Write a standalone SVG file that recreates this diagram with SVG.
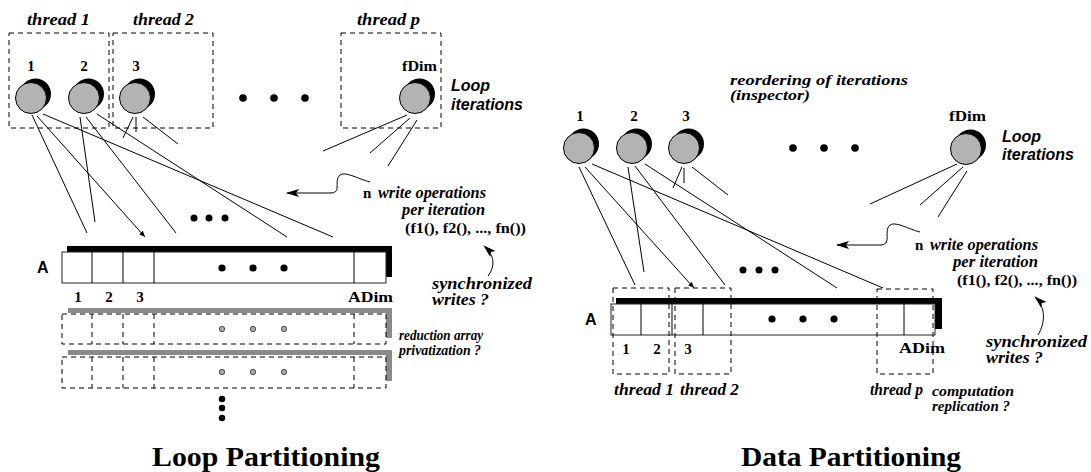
<svg xmlns="http://www.w3.org/2000/svg" width="1091" height="472" viewBox="0 0 1091 472">
<defs>
<marker id="ah" markerUnits="userSpaceOnUse" markerWidth="14" markerHeight="10" refX="12" refY="5" orient="auto"><path d="M0,1 L13,5 L0,9 L3,5 Z" fill="#000"/></marker>
<marker id="sm" markerUnits="userSpaceOnUse" markerWidth="7" markerHeight="6" refX="6" refY="3" orient="auto"><path d="M0,0.5 L6,3 L0,5.5 Z" fill="#000"/></marker>
</defs>
<style>
.t{font-family:"Liberation Serif",serif;font-weight:bold;font-style:italic;font-size:16px;fill:#000}
.t2{font-family:"Liberation Serif",serif;font-weight:bold;font-style:italic;font-size:15px;fill:#000}
.b{font-family:"Liberation Serif",serif;font-weight:bold;font-size:15px;fill:#000}
.s{font-family:"Liberation Sans",sans-serif;font-weight:bold;font-style:italic;font-size:16px;fill:#000}
.a{font-family:"Liberation Sans",sans-serif;font-weight:bold;font-size:16px;fill:#000}
.h{font-family:"Liberation Serif",serif;font-weight:bold;font-size:28px;fill:#000}
.dash{fill:none;stroke:#000;stroke-width:1;stroke-dasharray:5 4}
.ln{stroke:#000;stroke-width:1;fill:none}
.cg{fill:#b3b3b3;stroke:#000;stroke-width:1}
.box{fill:#fff;stroke:#222;stroke-width:1}
.gd{fill:#a8a8a8;stroke:#333;stroke-width:0.8}
.shg{fill:#8a8a8a}
</style>
<rect width="1091" height="472" fill="#fff"/>

<!-- LEFT PANEL -->
<g id="left-threads">
<rect class="dash" x="9" y="33" width="100" height="95"/>
<rect class="dash" x="113" y="33" width="100" height="95"/>
<rect class="dash" x="341" y="33" width="100" height="95"/>
<text class="t" x="27" y="25" textLength="63" lengthAdjust="spacingAndGlyphs">thread 1</text>
<text class="t" x="133" y="25" textLength="61" lengthAdjust="spacingAndGlyphs">thread 2</text>
<text class="t" x="357" y="25" textLength="63" lengthAdjust="spacingAndGlyphs">thread p</text>
</g>
<g id="l-it1"><circle cx="35.5" cy="94" r="15.5" fill="#000"/><circle class="cg" cx="31" cy="98" r="15.5"/><text class="b" x="31" y="71" text-anchor="middle">1</text></g>
<g id="l-it2"><circle cx="88.5" cy="94" r="15.5" fill="#000"/><circle class="cg" cx="84" cy="98" r="15.5"/><text class="b" x="84" y="71" text-anchor="middle">2</text></g>
<g id="l-it3"><circle cx="139.5" cy="94" r="15.5" fill="#000"/><circle class="cg" cx="135" cy="98" r="15.5"/><text class="b" x="136" y="71" text-anchor="middle">3</text></g>
<g id="l-itf"><circle cx="419.5" cy="94" r="15.5" fill="#000"/><circle class="cg" cx="415" cy="98" r="15.5"/><text class="b" x="402" y="71" textLength="35" lengthAdjust="spacingAndGlyphs">fDim</text></g>
<g id="l-dots">
<circle cx="243" cy="98" r="3.8"/><circle cx="274" cy="98" r="3.8"/><circle cx="305" cy="98" r="3.8"/>
<circle cx="194" cy="218" r="3.5"/><circle cx="209" cy="218" r="3.5"/><circle cx="225" cy="218" r="3.5"/>
<circle cx="222" cy="399" r="3.2"/><circle cx="222" cy="408" r="3.2"/><circle cx="222" cy="418" r="3.2"/>
</g>
<g id="l-labels">
<text class="s" x="451" y="91">Loop</text>
<text class="s" x="451" y="110">iterations</text>
<text class="b" x="363" y="198">n</text>
<text class="t" x="378" y="198" textLength="108" lengthAdjust="spacingAndGlyphs">write operations</text>
<text class="t" x="402" y="215" textLength="83" lengthAdjust="spacingAndGlyphs">per iteration</text>
<text class="b" x="405" y="233" textLength="121" lengthAdjust="spacingAndGlyphs">(f1(), f2(), ..., fn())</text>
<text class="t" x="432" y="289" textLength="100" lengthAdjust="spacingAndGlyphs">synchronized</text>
<text class="t" x="432" y="305" textLength="57" lengthAdjust="spacingAndGlyphs">writes ?</text>
<text class="t2" x="399" y="340" textLength="84" lengthAdjust="spacingAndGlyphs">reduction array</text>
<text class="t2" x="399" y="355" textLength="82" lengthAdjust="spacingAndGlyphs">privatization ?</text>
<text class="h" x="152" y="466" textLength="228" lengthAdjust="spacingAndGlyphs">Loop Partitioning</text>
</g>
<g id="l-array">
<rect x="67" y="246" width="325" height="6" fill="#000"/>
<rect x="386" y="246" width="6" height="31" fill="#000"/>
<rect class="box" x="62" y="252" width="324" height="31"/>
<path class="ln" d="M92,252V283M123,252V283M154,252V283M354,252V283"/>
<circle cx="222" cy="268" r="3.6"/><circle cx="253" cy="268" r="3.6"/><circle cx="284" cy="268" r="3.6"/>
<text class="a" x="37" y="273">A</text>
<text class="b" x="78" y="302" text-anchor="middle">1</text>
<text class="b" x="109" y="302" text-anchor="middle">2</text>
<text class="b" x="140" y="302" text-anchor="middle">3</text>
<text class="b" x="348" y="302" textLength="45" lengthAdjust="spacingAndGlyphs">ADim</text>
</g>
<g id="l-red1">
<rect class="shg" x="68" y="308" width="324" height="5"/>
<rect class="shg" x="386" y="308" width="6" height="30"/>
<rect class="dash" x="62" y="314" width="324" height="30"/>
<path class="dash" d="M92,314V344M123,314V344M154,314V344M354,314V344"/>
<circle class="gd" cx="222" cy="329" r="2.7"/><circle class="gd" cx="253" cy="329" r="2.7"/><circle class="gd" cx="284" cy="329" r="2.7"/>
</g>
<g id="l-red2">
<rect class="shg" x="68" y="350" width="324" height="5"/>
<rect class="shg" x="386" y="350" width="6" height="31"/>
<rect class="dash" x="62" y="357" width="324" height="31"/>
<path class="dash" d="M92,357V388M123,357V388M154,357V388M354,357V388"/>
<circle class="gd" cx="222" cy="372" r="2.7"/><circle class="gd" cx="253" cy="372" r="2.7"/><circle class="gd" cx="284" cy="372" r="2.7"/>
</g>

<!-- RIGHT PANEL -->
<g id="r-it1"><circle cx="583.5" cy="144" r="15.5" fill="#000"/><circle class="cg" cx="579" cy="148" r="15.5"/><text class="b" x="580" y="121" text-anchor="middle">1</text></g>
<g id="r-it2"><circle cx="636.5" cy="144" r="15.5" fill="#000"/><circle class="cg" cx="632" cy="148" r="15.5"/><text class="b" x="634" y="121" text-anchor="middle">2</text></g>
<g id="r-it3"><circle cx="688.5" cy="144" r="15.5" fill="#000"/><circle class="cg" cx="684" cy="148" r="15.5"/><text class="b" x="686" y="121" text-anchor="middle">3</text></g>
<g id="r-itf"><circle cx="970.5" cy="145" r="15.5" fill="#000"/><circle class="cg" cx="966" cy="149" r="15.5"/><text class="b" x="949" y="121" textLength="37" lengthAdjust="spacingAndGlyphs">fDim</text></g>
<g id="r-dots">
<circle cx="793" cy="148" r="3.8"/><circle cx="824" cy="148" r="3.8"/><circle cx="855" cy="148" r="3.8"/>
<circle cx="743" cy="270" r="3.5"/><circle cx="759" cy="270" r="3.5"/><circle cx="775" cy="270" r="3.5"/>
</g>
<g id="r-labels">
<text class="t2" x="730" y="85" textLength="178" lengthAdjust="spacingAndGlyphs">reordering of iterations</text>
<text class="t2" x="730" y="100" textLength="80" lengthAdjust="spacingAndGlyphs">(inspector)</text>
<text class="s" x="1002" y="142">Loop</text>
<text class="s" x="1002" y="160">iterations</text>
<text class="b" x="915" y="250">n</text>
<text class="t" x="930" y="250" textLength="108" lengthAdjust="spacingAndGlyphs">write operations</text>
<text class="t" x="953" y="267" textLength="85" lengthAdjust="spacingAndGlyphs">per iteration</text>
<text class="b" x="957" y="285" textLength="120" lengthAdjust="spacingAndGlyphs">(f1(), f2(), ..., fn())</text>
<text class="t" x="986" y="347" textLength="101" lengthAdjust="spacingAndGlyphs">synchronized</text>
<text class="t" x="986" y="363" textLength="57" lengthAdjust="spacingAndGlyphs">writes ?</text>
<text class="t2" x="932" y="396" textLength="82" lengthAdjust="spacingAndGlyphs">computation</text>
<text class="t2" x="932" y="411" textLength="78" lengthAdjust="spacingAndGlyphs">replication ?</text>
<text class="h" x="741" y="466" textLength="220" lengthAdjust="spacingAndGlyphs">Data Partitioning</text>
</g>
<g id="r-array">
<rect x="616" y="298" width="326" height="6" fill="#000"/>
<rect x="935" y="298" width="7" height="31" fill="#000"/>
<rect class="box" x="611" y="304" width="324" height="31"/>
<path class="ln" d="M641,304V335M672,304V335M703,304V335M904,304V335"/>
<circle cx="772" cy="319" r="3.6"/><circle cx="803" cy="319" r="3.6"/><circle cx="834" cy="319" r="3.6"/>
<text class="a" x="585" y="325">A</text>
<text class="b" x="626" y="354" text-anchor="middle">1</text>
<text class="b" x="657" y="354" text-anchor="middle">2</text>
<text class="b" x="688" y="354" text-anchor="middle">3</text>
<text class="b" x="899" y="353" textLength="46" lengthAdjust="spacingAndGlyphs">ADim</text>
</g>
<g id="r-threads">
<rect class="dash" x="613" y="288" width="56" height="86"/>
<rect class="dash" x="675" y="288" width="56" height="86"/>
<rect class="dash" x="877" y="289" width="56" height="85"/>
<text class="t" x="614" y="395" textLength="60" lengthAdjust="spacingAndGlyphs">thread 1</text>
<text class="t" x="680" y="395" textLength="59" lengthAdjust="spacingAndGlyphs">thread 2</text>
<text class="t" x="870" y="395" textLength="53" lengthAdjust="spacingAndGlyphs">thread p</text>
</g>

<g id="connectors">
<path class="ln" d="M32,115L87,233"/>
<path class="ln" d="M37,116L145,237" marker-end="url(#sm)"/>
<path class="ln" d="M43,114L333,237"/>
<path class="ln" d="M80,117L95,222"/>
<path class="ln" d="M86,117L176,233"/>
<path class="ln" d="M97,114L287,237"/>
<path class="ln" d="M133,117L123,138"/>
<path class="ln" d="M136,117L136,132"/>
<path class="ln" d="M143,117L178,144"/>
<path class="ln" d="M407,115L323,151"/>
<path class="ln" d="M410,118L370,153"/>
<path class="ln" d="M417,120L388,166"/>
<path class="ln" d="M370,182C358,179 344,170 339,176C334,183 342,193 330,193L287,193" marker-end="url(#ah)"/>
<path class="ln" d="M488,276C496,265 494,255 484,246" marker-end="url(#ah)"/>

<path class="ln" d="M579,167L635,285"/>
<path class="ln" d="M585,167L694,288" marker-end="url(#sm)"/>
<path class="ln" d="M592,164L883,288"/>
<path class="ln" d="M628,167L644,272"/>
<path class="ln" d="M635,166L725,285"/>
<path class="ln" d="M645,164L837,288"/>
<path class="ln" d="M682,167L673,188"/>
<path class="ln" d="M684,168L684,183"/>
<path class="ln" d="M692,167L728,195"/>
<path class="ln" d="M957,164L870,204"/>
<path class="ln" d="M963,167L920,205"/>
<path class="ln" d="M967,171L938,217"/>
<path class="ln" d="M920,232C908,229 894,220 889,226C884,233 892,245 880,245L837,245" marker-end="url(#ah)"/>
<path class="ln" d="M1038,335C1047,320 1044,305 1035,297" marker-end="url(#ah)"/>
</g>
</svg>
